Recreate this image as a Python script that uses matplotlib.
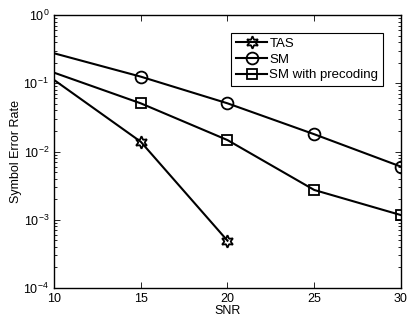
import matplotlib
matplotlib.use('Agg')
import matplotlib.pyplot as plt

snr = [10, 15, 20, 25, 30]
ser_sm = [0.275, 0.125, 0.0508, 0.0179, 0.0060]
ser_sm_pre = [0.143, 0.0508, 0.0147, 0.00273, 0.00117]
snr_tas = [10, 15, 20]
ser_tas = [0.112, 0.0139, 0.000493]

plt.rcParams['font.family'] = ['Liberation Sans', 'DejaVu Sans']
plt.rcParams['mathtext.default'] = 'regular'
plt.rcParams['xtick.direction'] = 'in'
plt.rcParams['ytick.direction'] = 'in'

fig = plt.figure(figsize=(4.1, 3.2), dpi=100)
ax = fig.add_axes([54 / 410, 1 - 288 / 320, 347 / 410, 273 / 320])

# no marker drawn on the first point (x = 10), as in the original figure
ax.semilogy(snr_tas, ser_tas, color='black', lw=1.5, marker=(6, 1, 0),
            ms=9, mfc='none', mew=1.3, markevery=slice(1, None), label='TAS')
ax.semilogy(snr, ser_sm, color='black', lw=1.5, marker='o',
            ms=8.5, mfc='none', mew=1.3, markevery=slice(1, None), label='SM')
ax.semilogy(snr, ser_sm_pre, color='black', lw=1.5, marker='s',
            ms=7, mfc='none', mew=1.3, markevery=slice(1, None),
            label='SM with precoding')

ax.set_xlim(10, 30)
ax.set_ylim(1e-4, 1)
ax.set_xticks([10, 15, 20, 25, 30])
ax.tick_params(which='both', top=True, right=True, labelsize=9, width=0.6)
ax.tick_params(which='major', length=4)
ax.tick_params(which='minor', length=2)
for s in ax.spines.values():
    s.set_linewidth(1.0)

ax.set_xlabel('SNR', fontsize=9, labelpad=0)
ax.set_ylabel('Symbol Error Rate', fontsize=9, labelpad=1)

leg = ax.legend(loc='upper right', bbox_to_anchor=(0.948, 0.935), fontsize=9.5,
                fancybox=False, framealpha=1, edgecolor='black',
                handlelength=2.4, handletextpad=0.15, borderpad=0.35,
                labelspacing=0.28, borderaxespad=0)
leg.get_frame().set_linewidth(0.8)

fig.savefig('out.png', dpi=100)
